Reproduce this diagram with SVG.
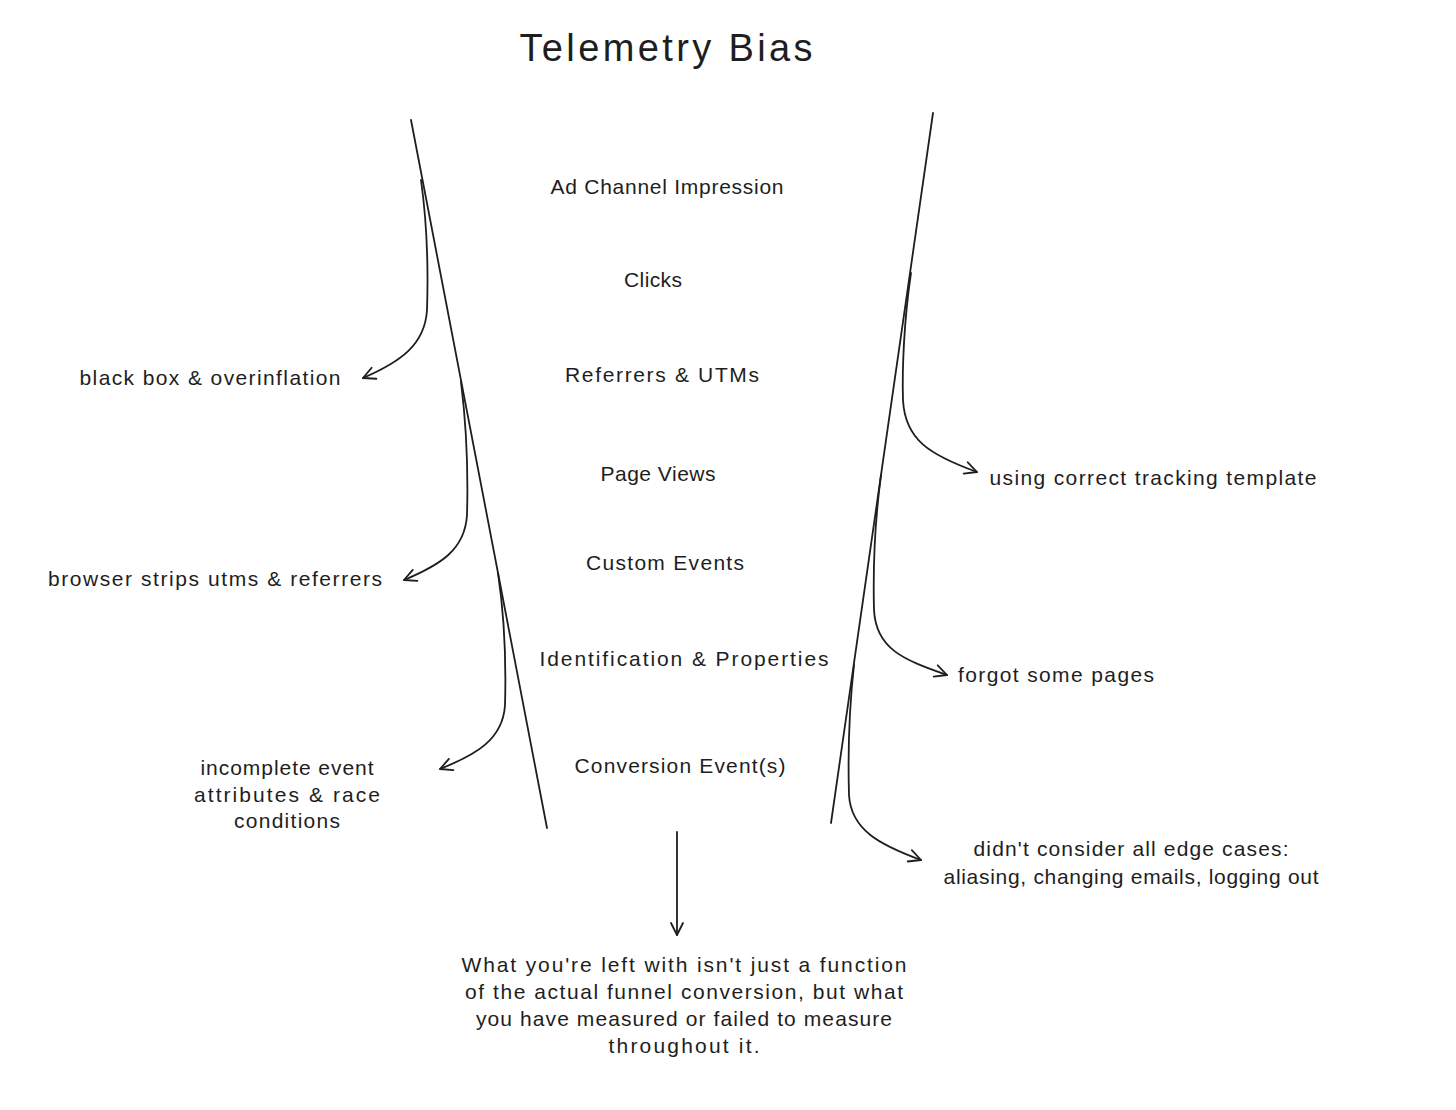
<svg xmlns="http://www.w3.org/2000/svg" width="1456" height="1110" viewBox="0 0 1456 1110">
<defs>
<style>
text{font-family:"Liberation Sans","Noto Sans",sans-serif;fill:#1e1e1e;font-size:21px;text-anchor:middle}
.t{font-size:38px}
.ln{fill:none;stroke:#1e1e1e;stroke-width:1.8;stroke-linecap:round}
</style>
<marker id="ah" markerUnits="userSpaceOnUse" viewBox="-14 -8 16 16" markerWidth="16" markerHeight="16" refX="0" refY="0" orient="auto">
<path d="M-12,-6 L0,0 L-12,6" fill="none" stroke="#1e1e1e" stroke-width="1.8" stroke-linecap="round" stroke-linejoin="round"/>
</marker>
</defs>
<rect width="1456" height="1110" fill="#ffffff"/>
<g id="title"><text class="t" x="666" y="61" textLength="293">Telemetry Bias</text></g>
<g id="stage-ad"><text x="667" y="194" textLength="233">Ad Channel Impression</text></g>
<g id="stage-clicks"><text x="653" y="287" textLength="58">Clicks</text></g>
<g id="stage-ref"><text x="662" y="382" textLength="194">Referrers &amp; UTMs</text></g>
<g id="stage-pv"><text x="658" y="481" textLength="115">Page Views</text></g>
<g id="stage-ce"><text x="665" y="570" textLength="158">Custom Events</text></g>
<g id="stage-id"><text x="684" y="666" textLength="289">Identification &amp; Properties</text></g>
<g id="stage-conv"><text x="680" y="773" textLength="211">Conversion Event(s)</text></g>
<g id="left-1"><text x="210" y="385" textLength="261">black box &amp; overinflation</text></g>
<g id="left-2"><text x="215" y="586" textLength="334">browser strips utms &amp; referrers</text></g>
<g id="left-3"><text x="287" y="775" textLength="173">incomplete event</text><text x="287" y="802" textLength="186">attributes &amp; race</text><text x="287" y="828" textLength="106">conditions</text></g>
<g id="right-1"><text x="1153" y="485" textLength="327">using correct tracking template</text></g>
<g id="right-2"><text x="1056" y="682" textLength="196">forgot some pages</text></g>
<g id="right-3"><text x="1131" y="856" textLength="315">didn't consider all edge cases:</text><text x="1131" y="884" textLength="375">aliasing, changing emails, logging out</text></g>
<g id="summary"><text x="684" y="972" textLength="445">What you're left with isn't just a function</text><text x="684" y="999" textLength="438">of the actual funnel conversion, but what</text><text x="684" y="1026" textLength="416">you have measured or failed to measure</text><text x="684" y="1053" textLength="151">throughout it.</text></g>
<g id="connectors">
<path class="ln" d="M411,120 L547,828"/>
<path class="ln" d="M933,113 L831,823"/>
<path class="ln" marker-end="url(#ah)" d="M421,180 C428,230 428,280 427,310 C425,345 400,362 363,378"/>
<path class="ln" marker-end="url(#ah)" d="M461,382 C467,430 468,480 467,515 C465,550 440,565 404,580"/>
<path class="ln" marker-end="url(#ah)" d="M498,573 C505,620 506,670 505,705 C503,740 475,755 440,769"/>
<path class="ln" marker-end="url(#ah)" d="M911,273 C904,320 902,370 903,400 C905,440 930,455 977,472"/>
<path class="ln" marker-end="url(#ah)" d="M881,475 C875,520 873,570 874,610 C876,650 905,660 947,675"/>
<path class="ln" marker-end="url(#ah)" d="M854,665 C849,710 848,760 849,795 C851,830 880,845 921,860"/>
<path class="ln" marker-end="url(#ah)" d="M677,832 L677,935"/>
</g>
</svg>
